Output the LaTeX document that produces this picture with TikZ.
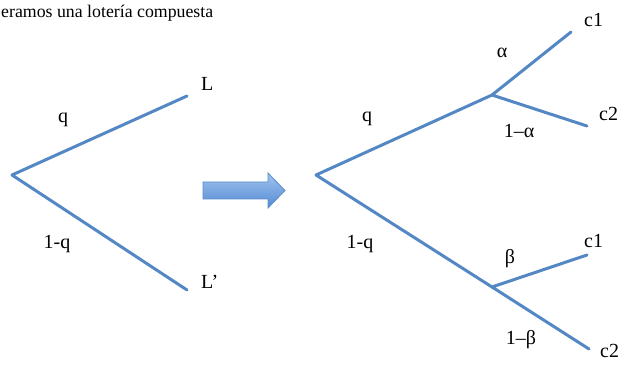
\documentclass[tikz,border=0pt]{standalone}
\usepackage{fontspec}
\setmainfont{Liberation Serif}
\begin{document}
\begin{tikzpicture}[x=1pt,y=-1pt,
  branch/.style={draw=treeblue,line width=3pt,line cap=round,line join=round},
  lbl/.style={font=\fontsize{20}{22}\selectfont,inner sep=0pt,anchor=base},
  lblw/.style={font=\fontsize{20}{22}\selectfont,inner sep=0pt,anchor=base west},
  bigarrow/.style={draw=arrowedge,line width=0.8pt,top color=arrowtop,bottom color=arrowbot}]
\definecolor{treeblue}{RGB}{84,136,196}
\definecolor{arrowtop}{RGB}{160,196,240}
\definecolor{arrowbot}{RGB}{84,138,210}
\definecolor{arrowedge}{RGB}{90,140,200}
\useasboundingbox (0,0) rectangle (625,366);
% title
\node[font=\fontsize{17.8}{20}\selectfont,inner sep=0pt,anchor=base west] (title) at (1,18) {eramos una lotería compuesta};
% left tree
\coordinate (r1) at (12,175);
\coordinate (L1) at (187,96);
\coordinate (L2) at (187,290);
\draw[branch] (L1) -- (r1) -- (L2);
\node[lbl] (q1) at (63,123) {q};
\node[lbl] (mq1) at (57,249) {1-q};
\node[lblw] (Ll) at (201,91) {L};
\node[lblw] (Lp) at (201,289) {L’};
% arrow
\draw[bigarrow] (203,182) -- (268,182) -- (268,173) -- (285,190.5) -- (268,208) -- (268,199) -- (203,199) -- cycle;
% right tree
\coordinate (r2) at (316,175);
\coordinate (a) at (492,95);
\coordinate (b) at (492,287);
\coordinate (ac1) at (571,32);
\coordinate (ac2) at (587,126);
\coordinate (bc1) at (587,255);
\coordinate (bc2) at (589,349);
\draw[branch] (a) -- (r2) -- (b);
\draw[branch] (ac1) -- (a) -- (ac2);
\draw[branch] (bc1) -- (b) -- (bc2);
\node[lbl] (q2) at (367,122) {q};
\node[lbl] (mq2) at (360,249) {1-q};
\node[lbl] (al) at (502,58) {α};
\node[lbl] (mal) at (519,138) {1–α};
\node[lbl] (be) at (510,264) {β};
\node[lbl] (mbe) at (521,345) {1–β};
\node[lblw] (c1a) at (584,27) {c1};
\node[lblw] (c2a) at (599,121) {c2};
\node[lblw] (c1b) at (584,248) {c1};
\node[lblw] (c2b) at (600,358) {c2};
\end{tikzpicture}
\end{document}
